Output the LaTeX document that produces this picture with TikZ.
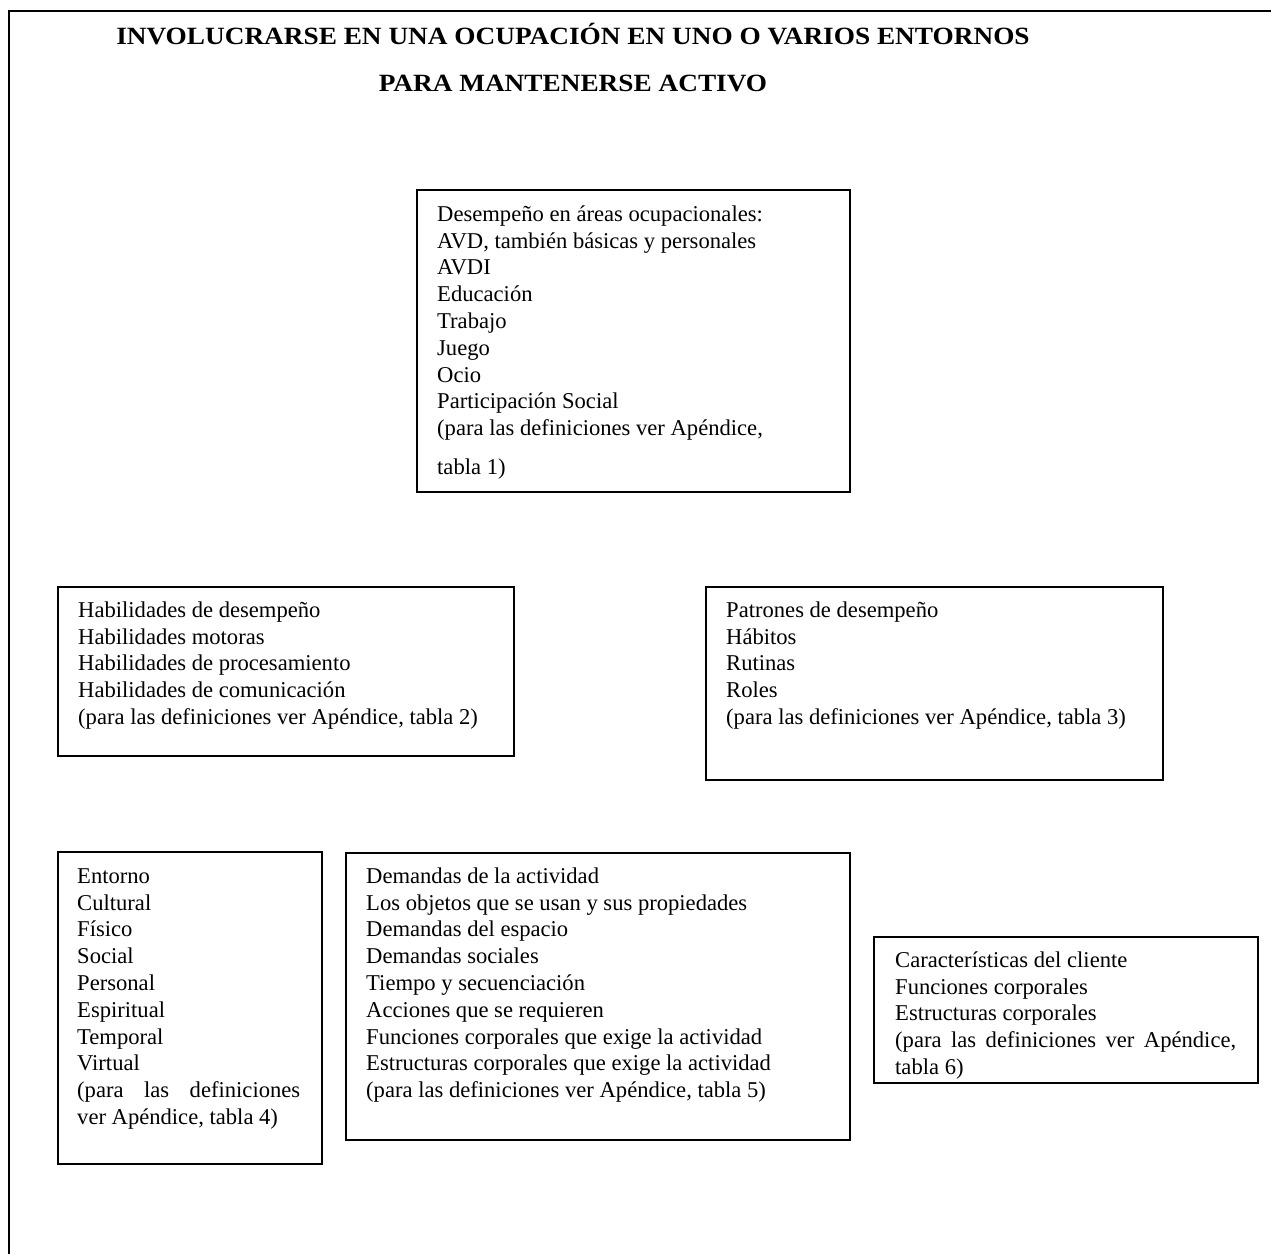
\documentclass[tikz,border=0pt]{standalone}
\usepackage{fontspec}
\setmainfont{Liberation Serif}
\newfontfamily\titlefont[FakeStretch=1.1]{Liberation Serif}
\newcommand{\fl}{\rule{0pt}{18pt}}
\tikzset{
  frameline/.style={line width=1.6pt, black},
  box/.style={draw, line width=1.6pt, rectangle, anchor=north west, inner sep=0pt},
  body/.style={anchor=north west, inner sep=0pt, align=left,
    font=\fontsize{22.6}{26.8}\selectfont},
  titletext/.style={anchor=base, inner sep=0pt,
    font=\titlefont\fontsize{24.8}{28}\selectfont\bfseries}
}
\begin{document}
\begin{tikzpicture}[x=1pt,y=-1pt]
\useasboundingbox (0,0) rectangle (1271,1254);
% outer frame (cropped)
\draw[frameline] (9,1254) -- (9,11) -- (1271,11);
% title
\node[titletext] (t1) at (573,44) {INVOLUCRARSE EN UNA OCUPACIÓN EN UNO O VARIOS ENTORNOS};
\node[titletext] (t2) at (573,91) {PARA MANTENERSE ACTIVO};
% Box A
\node[box, minimum width=433pt, minimum height=302pt] (boxA) at (416,189) {};
\node[body] (txtA) at (437,203) {\fl Desempeño en áreas ocupacionales:\\AVD, también básicas y personales\\AVDI\\Educación\\Trabajo\\Juego\\Ocio\\Participación Social\\(para las definiciones ver Apéndice,\\[12.5pt]tabla 1)};
% Box B
\node[box, minimum width=456pt, minimum height=169pt] (boxB) at (57,586) {};
\node[body] (txtB) at (78,599) {\fl Habilidades de desempeño\\Habilidades motoras\\Habilidades de procesamiento\\Habilidades de comunicación\\(para las definiciones ver Apéndice, tabla 2)};
% Box C
\node[box, minimum width=457pt, minimum height=193pt] (boxC) at (705,586) {};
\node[body] (txtC) at (726,599) {\fl Patrones de desempeño\\Hábitos\\Rutinas\\Roles\\(para las definiciones ver Apéndice, tabla 3)};
% Box D
\node[box, minimum width=264pt, minimum height=312pt] (boxD) at (57,851) {};
\node[body] (txtD) at (77,865) {\fl Entorno\\Cultural\\Físico\\Social\\Personal\\Espiritual\\Temporal\\Virtual\\\hbox to 223pt{(para\hfill las\hfill definiciones}\\ver Apéndice, tabla 4)};
% Box E
\node[box, minimum width=504pt, minimum height=287pt] (boxE) at (345,852) {};
\node[body] (txtE) at (366,865) {\fl Demandas de la actividad\\Los objetos que se usan y sus propiedades\\Demandas del espacio\\Demandas sociales\\Tiempo y secuenciación\\Acciones que se requieren\\Funciones corporales que exige la actividad\\Estructuras corporales que exige la actividad\\(para las definiciones ver Apéndice, tabla 5)};
% Box F
\node[box, minimum width=384pt, minimum height=146pt] (boxF) at (873,936) {};
\node[body] (txtF) at (895,949) {\fl Características del cliente\\Funciones corporales\\Estructuras corporales\\\hbox to 341pt{(para\hfill las\hfill definiciones\hfill ver\hfill Apéndice,}\\tabla 6)};
\end{tikzpicture}
\end{document}
